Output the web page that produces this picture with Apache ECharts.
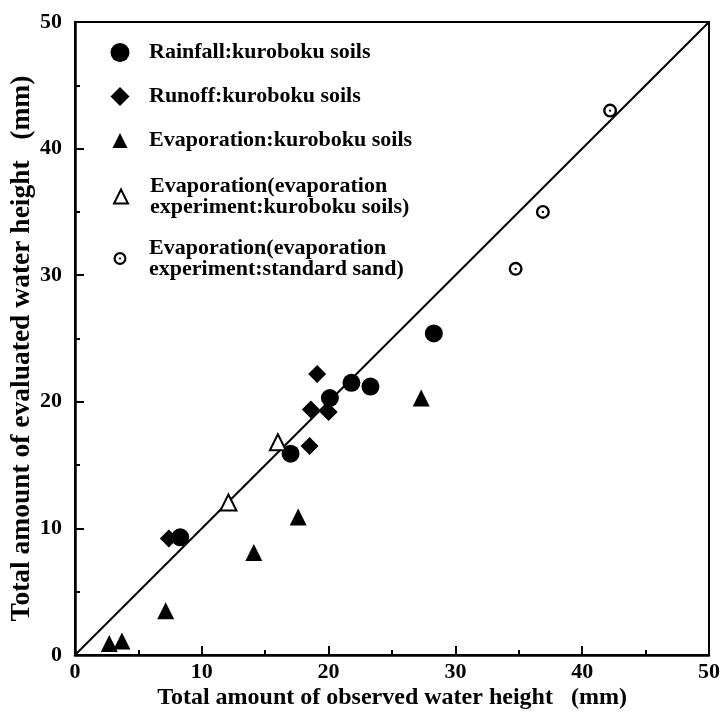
<!DOCTYPE html>
<html>
<head>
<meta charset="utf-8">
<script src="https://cdn.jsdelivr.net/npm/echarts@6/dist/echarts.min.js"></script>
<style>
  html, body { margin: 0; padding: 0; background: #fff; }
  #chart { width: 728px; height: 720px; }
</style>
</head>
<body>
<div id="chart"></div>
<script>
// Observed vs. evaluated total water height (mm)
const rainfallKuroboku = [[8.3, 9.3], [17.0, 15.9], [20.1, 20.3], [21.8, 21.5], [23.3, 21.2], [28.3, 25.4]];
const runoffKuroboku = [[7.4, 9.2], [18.5, 16.5], [18.6, 19.4], [20.0, 19.2], [19.1, 22.2]];
const evapKuroboku = [[2.7, 0.9], [3.7, 1.1], [7.15, 3.5], [14.1, 8.1], [17.6, 10.9], [27.3, 20.3]];
const evapExpKuroboku = [[12.1, 12.05], [16.0, 16.8]];
const evapExpSand = [[34.75, 30.5], [36.9, 35.0], [42.2, 43.0]];
const oneToOne = [[0, 0], [50, 50]];

const seriesNames = [
  'Rainfall:kuroboku soils',
  'Runoff:kuroboku soils',
  'Evaporation:kuroboku soils',
  'Evaporation(evaporation\nexperiment:kuroboku soils)',
  'Evaporation(evaporation\nexperiment:standard sand)'
];
const axisTitleX = 'Total amount of observed water height   (mm)';
const axisTitleY = 'Total amount of evaluated water height   (mm)';

const FONT = '"Liberation Serif", "Times New Roman", serif';
// ring with a centre dot
const ringDot = 'path://M0,10A10,10,0,1,1,20,10A10,10,0,1,1,0,10Z' +
  'M3.4,10A6.6,6.6,0,1,0,16.6,10A6.6,6.6,0,1,0,3.4,10Z' +
  'M8.3,10A1.7,1.7,0,1,1,11.7,10A1.7,1.7,0,1,1,8.3,10Z';

const ICON_X = 120;   // icon centre
const TEXT_X = 149;   // legend text start
const LEGEND_LH = 21;

function legendEntry(name, icon, size, centerY, lines, itemStyle) {
  return {
    show: true, orient: 'vertical',
    left: ICON_X - size / 2,
    top: centerY - lines * LEGEND_LH / 2,
    itemWidth: size, itemHeight: size, padding: 0, itemGap: 0,
    selectedMode: false,
    textStyle: {
      fontFamily: FONT, fontWeight: 'bold', fontSize: 22, lineHeight: LEGEND_LH, color: '#000',
      padding: [0, 0, 0, TEXT_X - 5 - (ICON_X + size / 2)]
    },
    itemStyle: itemStyle,
    data: [{ name: name, icon: icon }]
  };
}

const solid = { color: '#000', borderWidth: 0, opacity: 1 };
const hollow = { color: '#fff', borderColor: '#000', borderWidth: 2, opacity: 1 };

const axisCommon = {
  type: 'value', min: 0, max: 50, interval: 10,
  nameLocation: 'middle',
  nameMoveOverlap: false,
  splitLine: { show: false },
  axisLine: { show: true, onZero: false, lineStyle: { color: '#000', width: 2.5 } },
  axisTick: { show: true, inside: true, length: 9, lineStyle: { color: '#000', width: 2 } },
  minorTick: { show: true, splitNumber: 2, length: 5, lineStyle: { color: '#000', width: 2 } },
  minorSplitLine: { show: false },
  axisLabel: { fontFamily: FONT, fontWeight: 'bold', fontSize: 22, color: '#000' }
};

const option = {
  backgroundColor: '#fff',
  animation: false,
  grid: {
    left: 75, right: 19, top: 22, bottom: 65,
    show: true, borderColor: '#000', borderWidth: 2,
    outerBoundsMode: 'none'
  },
  legend: [
    legendEntry(seriesNames[0], 'circle', 19, 52, 1, solid),
    legendEntry(seriesNames[1], 'diamond', 19, 96, 1, solid),
    legendEntry(seriesNames[2], 'triangle', 15, 140, 1, solid),
    legendEntry(seriesNames[3], 'triangle', 14, 196, 2, hollow),
    legendEntry(seriesNames[4], ringDot, 13, 258, 2, solid)
  ],
  xAxis: Object.assign({}, axisCommon, {
    name: axisTitleX, nameGap: 31,
    nameTextStyle: { fontFamily: FONT, fontWeight: 'bold', fontSize: 24, color: '#000' },
    axisLabel: Object.assign({}, axisCommon.axisLabel, { margin: 6 })
  }),
  yAxis: Object.assign({}, axisCommon, {
    name: axisTitleY, nameGap: 39,
    nameTextStyle: {
      fontFamily: FONT, fontWeight: 'bold', fontSize: 27.5, color: '#000',
      padding: [0, 20, 0, 0]
    },
    axisLabel: Object.assign({}, axisCommon.axisLabel, { margin: 13 })
  }),
  series: [
    {
      type: 'line', name: '1:1', data: oneToOne, symbol: 'none', silent: true,
      lineStyle: { color: '#000', width: 2 }, z: 1
    },
    {
      type: 'scatter', name: seriesNames[0], data: rainfallKuroboku,
      symbol: 'circle', symbolSize: 18, itemStyle: solid, z: 3
    },
    {
      type: 'scatter', name: seriesNames[1], data: runoffKuroboku,
      symbol: 'diamond', symbolSize: 18, itemStyle: solid, z: 3
    },
    {
      type: 'scatter', name: seriesNames[2], data: evapKuroboku,
      symbol: 'triangle', symbolSize: 17, itemStyle: solid, z: 3
    },
    {
      type: 'scatter', name: seriesNames[3], data: evapExpKuroboku,
      symbol: 'triangle', symbolSize: 16, itemStyle: hollow, z: 3
    },
    {
      type: 'scatter', name: seriesNames[4], data: evapExpSand,
      symbol: ringDot, symbolSize: 14, itemStyle: solid, z: 3
    }
  ]
};

const chart = echarts.init(document.getElementById('chart'), null, { renderer: 'canvas' });
chart.setOption(option);
</script>
</body>
</html>
